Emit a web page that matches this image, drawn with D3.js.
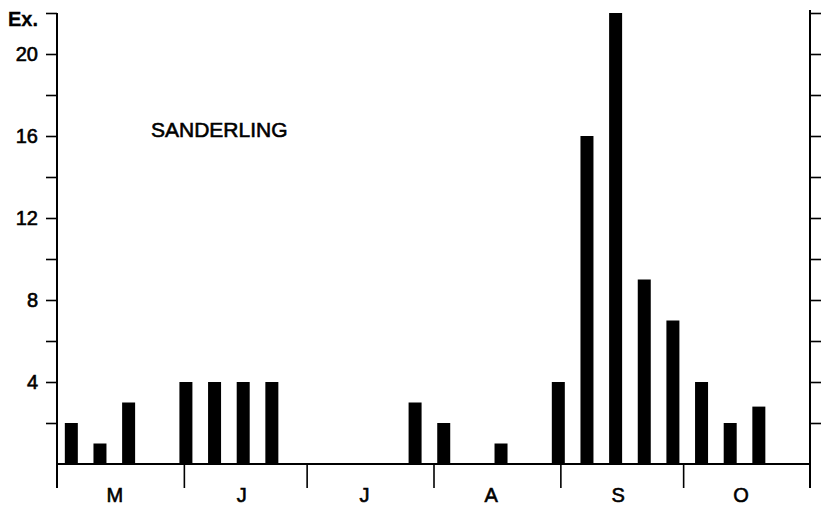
<!DOCTYPE html>
<html>
<head>
<meta charset="utf-8">
<script src="https://cdn.jsdelivr.net/npm/d3@7"></script>
<style>
  html, body { margin: 0; padding: 0; background: #fff; }
  svg { display: block; }
  text { font-family: "Liberation Sans", Arial, sans-serif; fill: #000; stroke: #000; stroke-width: 0.6px; }
</style>
</head>
<body>
<svg id="chart" width="826" height="506"></svg>
<script>
// ---- data ----
// weekly counts, first week starting 1 May
const weekIndex = d3.range(25);
const weekCounts = [2, 1, 3, 0, 4, 4, 4, 4, 0, 0, 0, 0, 3, 2, 0, 1, 0, 4, 16, 22, 9, 7, 4, 2, 2.8];
const monthLabels = ["M", "J", "J", "A", "S", "O"];
const monthNumbers = [4, 5, 6, 7, 8, 9];           // JS month index (May..Oct)
const yTickValues = [2, 4, 6, 8, 10, 12, 14, 16, 18, 20, 22];
const yLabelValues = [4, 8, 12, 16, 20];
const yUnitLabel = "Ex.";
const title = "SANDERLING";

// ---- layout ----
const svg = d3.select("#chart");
const year = 1977;
const start = new Date(year, 4, 1);
const end = new Date(year, 10, 1);
const DAY = 864e5;

const x = d3.scaleTime().domain([start, end]).range([57, 810]);
const y = d3.scaleLinear().domain([0, 22]).range([464, 13]);
const baseY = y(0);
const axisBottomY = 488;
const barW = 13;

const weekCenter = i => new Date(start.getTime() + (7 * i + 3.5) * DAY);

// bars
svg.append("g").selectAll("rect")
  .data(weekIndex.filter(i => weekCounts[i] > 0))
  .join("rect")
  .attr("x", i => x(weekCenter(i)) - barW / 2)
  .attr("y", i => y(weekCounts[i]))
  .attr("width", barW)
  .attr("height", i => baseY - y(weekCounts[i]))
  .attr("fill", "#000");

// left axis
const leftAxis = d3.axisLeft(y)
  .tickValues(yTickValues)
  .tickSize(11)
  .tickPadding(8)
  .tickFormat(d => d === 22 ? yUnitLabel : (yLabelValues.includes(d) ? String(d) : ""));
const gl = svg.append("g").attr("transform", `translate(${x(start)},0)`).call(leftAxis);
gl.select(".domain").remove();
gl.selectAll(".tick line").attr("stroke", "#000").attr("stroke-width", 1.6);
gl.selectAll(".tick text").style("font-size", "20px").attr("font-family", null);
gl.selectAll(".tick").filter(d => d === 22).select("text")
  .attr("dy", "0.62em").style("font-weight", "bold").style("stroke-width", "0.3px");

// right axis
const rightAxis = d3.axisRight(y).tickValues(yTickValues).tickSize(11).tickFormat("");
const gr = svg.append("g").attr("transform", `translate(${x(end)},0)`).call(rightAxis);
gr.select(".domain").remove();
gr.selectAll(".tick line").attr("stroke", "#000").attr("stroke-width", 1.6);

// vertical axis lines
svg.append("line").attr("x1", x(start)).attr("x2", x(start))
  .attr("y1", y(22)).attr("y2", axisBottomY).attr("stroke", "#000").attr("stroke-width", 2);
svg.append("line").attr("x1", x(end)).attr("x2", x(end))
  .attr("y1", y(22) - 3).attr("y2", axisBottomY).attr("stroke", "#000").attr("stroke-width", 2);

// baseline
svg.append("line").attr("x1", x(start)).attr("x2", x(end))
  .attr("y1", baseY).attr("y2", baseY).attr("stroke", "#000").attr("stroke-width", 2);

// month boundary ticks
const monthStarts = monthNumbers.slice(1).map(m => new Date(year, m, 1));
const bAxis = d3.axisBottom(x).tickValues(monthStarts).tickSize(axisBottomY - baseY).tickFormat("");
const gb = svg.append("g").attr("transform", `translate(0,${baseY})`).call(bAxis);
gb.select(".domain").remove();
gb.selectAll(".tick line").attr("stroke", "#000").attr("stroke-width", 1.6);

// month labels
const monthMids = monthNumbers.map(m => new Date(year, m, 15));
const lAxis = d3.axisBottom(x).tickValues(monthMids).tickSize(0).tickPadding(0)
  .tickFormat((d, i) => monthLabels[i]);
const gm = svg.append("g").attr("transform", `translate(0,${baseY})`).call(lAxis);
gm.select(".domain").remove();
gm.selectAll(".tick text").style("font-size", "20px").attr("font-family", null)
  .attr("y", 38).attr("dy", 0);

// title
svg.append("text").attr("x", 151).attr("y", 137)
  .style("font-size", "21px").text(title);
</script>
</body>
</html>
